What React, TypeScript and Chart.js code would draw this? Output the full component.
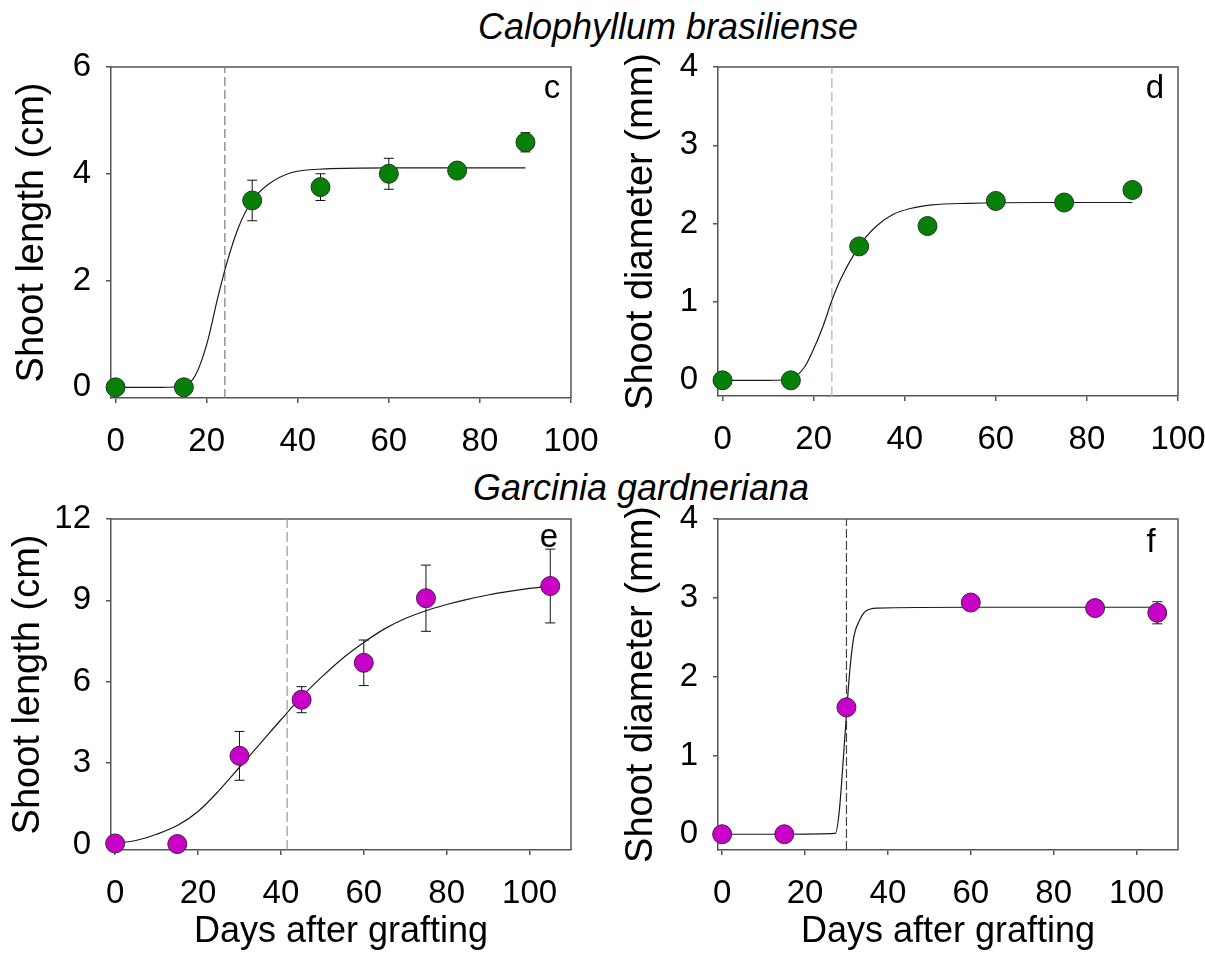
import React, { useEffect, useRef } from "react";
import { Chart, registerables } from "chart.js";

Chart.register(...registerables);

const FONT = '"Liberation Sans", Arial, Helvetica, sans-serif';
const AXIS = "#555555";

// ---------- Calophyllum brasiliense ----------
const daysCalophyllum = [0, 15, 30, 45, 60, 75, 90];
const lengthCalophyllum = [0, 0, 3.5, 3.75, 4.0, 4.06, 4.59];
const lengthCalophyllumSE = [0, 0, 0.38, 0.25, 0.29, 0.05, 0.18];
const lengthCalophyllumFitDays = [0, 10, 15, 17.5, 20, 22.5, 24.5, 27, 30, 33.5, 38.5, 46, 60, 75, 90];
const lengthCalophyllumFit = [0, 0, 0.03, 0.22, 0.8, 1.7, 2.35, 3.0, 3.5, 3.8, 4.02, 4.09, 4.11, 4.11, 4.11];

const diameterCalophyllum = [0, 0, 1.71, 1.97, 2.29, 2.27, 2.43];
const diameterCalophyllumSE = [0, 0, 0.08, 0.05, 0.06, 0.05, 0.07];
const diameterCalophyllumFitDays = [0, 10, 15, 18, 20, 22, 24, 26, 29, 31.5, 34, 37.5, 41, 46, 54, 70, 90];
const diameterCalophyllumFit = [0, 0, 0.02, 0.17, 0.4, 0.68, 1.02, 1.3, 1.62, 1.83, 1.98, 2.12, 2.19, 2.24, 2.26, 2.27, 2.27];

// ---------- Garcinia gardneriana ----------
const lengthGarciniaDays = [0, 15, 30, 45, 60, 75, 105];
const lengthGarcinia = [0.04, 0.02, 3.27, 5.34, 6.7, 9.08, 9.53];
const lengthGarciniaSE = [0, 0, 0.9, 0.48, 0.84, 1.22, 1.36];
const lengthGarciniaFitDays = [0, 5, 10, 15, 20, 25, 30, 35, 40, 45, 50, 55, 60, 65, 70, 75, 80, 85, 90, 95, 100, 105];
const lengthGarciniaFit = [0.04, 0.15, 0.38, 0.7, 1.22, 1.98, 2.85, 3.72, 4.6, 5.45, 6.2, 6.88, 7.45, 7.95, 8.33, 8.62, 8.85, 9.04, 9.2, 9.33, 9.44, 9.53];

const diameterGarciniaDays = [0, 15, 30, 60, 90, 105];
const diameterGarcinia = [0, 0, 1.61, 2.94, 2.87, 2.81];
const diameterGarciniaSE = [0, 0, 0.05, 0.06, 0.05, 0.14];
const diameterGarciniaFitDays = [0, 15, 27.3, 28.2, 29.1, 30, 30.9, 31.8, 33.2, 34.6, 37.5, 60, 90, 105];
const diameterGarciniaFit = [0, 0, 0.01, 0.26, 0.85, 1.53, 2.13, 2.51, 2.72, 2.83, 2.87, 2.88, 2.88, 2.88];

// reference (dashed) days
const refDays = [24, 24, 41.5, 30];

// tick labels
const xTicksCalophyllum = [0, 20, 40, 60, 80, 100];
const xTicksGarcinia = [0, 20, 40, 60, 80, 100];
const yTicksLengthCalophyllum = [0, 2, 4, 6];
const yTicksDiameter = [0, 1, 2, 3, 4];
const yTicksLengthGarcinia = [0, 3, 6, 9, 12];

const speciesTitles = ["Calophyllum brasiliense", "Garcinia gardneriana"];
const panelLetters = ["c", "d", "e", "f"];
const yTitles = ["Shoot length (cm)", "Shoot diameter (mm)"];
const xTitle = "Days after grafting";

const GREEN = "#07800a";
const MAGENTA = "#c800c8";

type Spec = {
  days: number[];
  values: number[];
  errors: number[];
  fitDays: number[];
  fitValues: number[];
  refDay: number;
  refColor: string;
  refDash: number[];
  xMin: number;
  xMax: number;
  xTicks: number[];
  yMin: number;
  yMax: number;
  yTicks: number[];
  yTitle: string;
  xTitle: string;
  fill: string;
  edge: string;
  letter: string;
  letterDx: number;
  letterDy: number;
  yAxisWidth: number;
  xAxisHeight: number;
  yTitlePad: number;
  padTop: number;
  padRight: number;
};

function buildConfig(s: Spec): any {
  const points = s.days.map((d, i) => ({ x: d, y: s.values[i] }));
  const fit = s.fitDays.map((d, i) => ({ x: d, y: s.fitValues[i] }));
  const ref = [
    { x: s.refDay, y: s.yMin },
    { x: s.refDay, y: s.yMax },
  ];
  const extras = {
    id: "panelExtras",
    beforeDatasetsDraw(chart: any) {
      const { ctx, chartArea, scales } = chart;
      const { left, top, right, bottom } = chartArea;
      ctx.save();
      ctx.strokeStyle = AXIS;
      ctx.lineWidth = 1.5;
      ctx.beginPath();
      ctx.moveTo(left, top);
      ctx.lineTo(right, top);
      ctx.lineTo(right, bottom);
      ctx.stroke();
      ctx.strokeStyle = "#111";
      ctx.lineWidth = 1;
      s.days.forEach((d, i) => {
        const e = s.errors[i];
        if (!e) return;
        const px = scales.x.getPixelForValue(d);
        const y1 = scales.y.getPixelForValue(s.values[i] + e);
        const y2 = scales.y.getPixelForValue(s.values[i] - e);
        ctx.beginPath();
        ctx.moveTo(px, y1);
        ctx.lineTo(px, y2);
        ctx.moveTo(px - 5, y1);
        ctx.lineTo(px + 5, y1);
        ctx.moveTo(px - 5, y2);
        ctx.lineTo(px + 5, y2);
        ctx.stroke();
      });
      ctx.restore();
    },
    afterDraw(chart: any) {
      const { ctx, chartArea } = chart;
      ctx.save();
      ctx.fillStyle = "#000";
      ctx.font = `33px ${FONT}`;
      ctx.textAlign = "center";
      ctx.textBaseline = "alphabetic";
      ctx.fillText(s.letter, chartArea.right - s.letterDx, chartArea.top + s.letterDy);
      ctx.restore();
    },
  };
  const tickFont = { family: FONT, size: 33 };
  const xTitleFont = { family: FONT, size: 36 };
  const yTitleFont = { family: FONT, size: 38 };
  return {
    type: "scatter",
    data: {
      datasets: [
        {
          data: points,
          backgroundColor: s.fill,
          borderColor: s.edge,
          borderWidth: 1,
          pointRadius: 9.5,
          pointHoverRadius: 9.5,
          clip: false,
          order: 0,
        },
        {
          data: fit,
          showLine: true,
          borderColor: "#1a1a1a",
          borderWidth: 1.2,
          pointRadius: 0,
          cubicInterpolationMode: "monotone",
          fill: false,
          order: 1,
        },
        {
          data: ref,
          showLine: true,
          borderColor: s.refColor,
          borderWidth: 1.2,
          borderDash: s.refDash,
          pointRadius: 0,
          fill: false,
          order: 2,
        },
      ],
    },
    options: {
      responsive: false,
      animation: false,
      devicePixelRatio: 1,
      events: [],
      layout: { padding: { top: s.padTop, right: s.padRight, left: 0, bottom: 0 } },
      plugins: {
        legend: { display: false },
        tooltip: { enabled: false },
        title: { display: false },
      },
      scales: {
        x: {
          type: "linear",
          min: s.xMin,
          max: s.xMax,
          afterBuildTicks: (sc: any) => {
            sc.ticks = s.xTicks.map((v) => ({ value: v }));
          },
          afterFit: (sc: any) => {
            sc.height = s.xAxisHeight;
            sc.paddingLeft = 0;
            sc.paddingRight = 0;
          },
          grid: {
            display: true,
            drawOnChartArea: false,
            drawTicks: true,
            tickLength: 5,
            color: AXIS,
            lineWidth: 1.5,
          },
          border: { display: true, color: AXIS, width: 1.5 },
          ticks: {
            font: tickFont,
            color: "#000",
            padding: 19,
            maxRotation: 0,
            autoSkip: false,
            callback: (v: any) => String(v),
          },
          title: {
            display: !!s.xTitle,
            text: s.xTitle,
            font: xTitleFont,
            color: "#000",
            padding: { top: 0, bottom: 0 },
          },
        },
        y: {
          type: "linear",
          min: s.yMin,
          max: s.yMax,
          afterBuildTicks: (sc: any) => {
            sc.ticks = s.yTicks.map((v) => ({ value: v }));
          },
          afterFit: (sc: any) => {
            sc.width = s.yAxisWidth;
            sc.paddingTop = 0;
            sc.paddingBottom = 0;
          },
          grid: {
            display: true,
            drawOnChartArea: false,
            drawTicks: true,
            tickLength: 5,
            color: AXIS,
            lineWidth: 1.5,
          },
          border: { display: true, color: AXIS, width: 1.5 },
          ticks: {
            font: tickFont,
            color: "#000",
            padding: 15,
            autoSkip: false,
            callback: (v: any) => String(v),
          },
          title: {
            display: true,
            text: s.yTitle,
            font: yTitleFont,
            color: "#000",
            padding: { top: s.yTitlePad, bottom: 0 },
          },
        },
      },
    },
    plugins: [extras],
  };
}

function Panel(props: { left: number; top: number; width: number; height: number; spec: Spec }) {
  const ref = useRef<HTMLCanvasElement>(null);
  useEffect(() => {
    if (!ref.current) return;
    const chart = new Chart(ref.current, buildConfig(props.spec));
    return () => chart.destroy();
  }, []);
  return (
    <canvas
      ref={ref}
      width={props.width}
      height={props.height}
      style={{
        position: "absolute",
        left: props.left,
        top: props.top,
        width: props.width,
        height: props.height,
      }}
    />
  );
}

const specC: Spec = {
  days: daysCalophyllum,
  values: lengthCalophyllum,
  errors: lengthCalophyllumSE,
  fitDays: lengthCalophyllumFitDays,
  fitValues: lengthCalophyllumFit,
  refDay: refDays[0],
  refColor: "#7a7a7a",
  refDash: [9, 4],
  xMin: -1,
  xMax: 100,
  xTicks: xTicksCalophyllum,
  yMin: -0.2,
  yMax: 6,
  yTicks: yTicksLengthCalophyllum,
  yTitle: yTitles[0],
  xTitle: "",
  fill: GREEN,
  edge: "#1f3a1f",
  letter: panelLetters[0],
  letterDx: 19,
  letterDy: 31,
  yAxisWidth: 111,
  xAxisHeight: 72,
  yTitlePad: 10,
  padTop: 17,
  padRight: 29,
};

const specD: Spec = {
  days: daysCalophyllum,
  values: diameterCalophyllum,
  errors: diameterCalophyllumSE,
  fitDays: diameterCalophyllumFitDays,
  fitValues: diameterCalophyllumFit,
  refDay: refDays[1],
  refColor: "#b0b0b0",
  refDash: [10, 4],
  xMin: -1,
  xMax: 100,
  xTicks: xTicksCalophyllum,
  yMin: -0.2,
  yMax: 4,
  yTicks: yTicksDiameter,
  yTitle: yTitles[1],
  xTitle: "",
  fill: GREEN,
  edge: "#1f3a1f",
  letter: panelLetters[1],
  letterDx: 23,
  letterDy: 31,
  yAxisWidth: 118,
  xAxisHeight: 74,
  yTitlePad: 19,
  padTop: 17,
  padRight: 27,
};

const specE: Spec = {
  days: lengthGarciniaDays,
  values: lengthGarcinia,
  errors: lengthGarciniaSE,
  fitDays: lengthGarciniaFitDays,
  fitValues: lengthGarciniaFit,
  refDay: refDays[2],
  refColor: "#9a9a9a",
  refDash: [10, 4],
  xMin: -1,
  xMax: 110,
  xTicks: xTicksGarcinia,
  yMin: -0.2,
  yMax: 12,
  yTicks: yTicksLengthGarcinia,
  yTitle: yTitles[0],
  xTitle: xTitle,
  fill: MAGENTA,
  edge: "#4a1a4a",
  letter: panelLetters[2],
  letterDx: 22,
  letterDy: 28,
  yAxisWidth: 111,
  xAxisHeight: 104,
  yTitlePad: 6,
  padTop: 39,
  padRight: 29,
};

const specF: Spec = {
  days: diameterGarciniaDays,
  values: diameterGarcinia,
  errors: diameterGarciniaSE,
  fitDays: diameterGarciniaFitDays,
  fitValues: diameterGarciniaFit,
  refDay: refDays[3],
  refColor: "#444444",
  refDash: [9, 3],
  xMin: -1,
  xMax: 110,
  xTicks: xTicksGarcinia,
  yMin: -0.2,
  yMax: 4,
  yTicks: yTicksDiameter,
  yTitle: yTitles[1],
  xTitle: xTitle,
  fill: MAGENTA,
  edge: "#4a1a4a",
  letter: panelLetters[3],
  letterDx: 27,
  letterDy: 33,
  yAxisWidth: 118,
  xAxisHeight: 104,
  yTitlePad: 19,
  padTop: 39,
  padRight: 27,
};

function SpeciesTitle(props: { text: string; cx: number; baseline: number }) {
  return (
    <div
      style={{
        position: "absolute",
        left: props.cx,
        top: props.baseline - 30.5,
        transform: "translateX(-50%)",
        font: `italic 36px ${FONT}`,
        lineHeight: "36px",
        whiteSpace: "nowrap",
        color: "#000",
      }}
    >
      {props.text}
    </div>
  );
}

export default function App() {
  return (
    <div
      style={{
        position: "absolute",
        left: 0,
        top: 0,
        width: 1205,
        height: 954,
        background: "#fff",
        overflow: "hidden",
      }}
    >
      <SpeciesTitle text={speciesTitles[0]} cx={668} baseline={39} />
      <SpeciesTitle text={speciesTitles[1]} cx={641} baseline={500} />
      <Panel left={0} top={50} width={600} height={420} spec={specC} />
      <Panel left={600} top={50} width={605} height={420} spec={specD} />
      <Panel left={0} top={480} width={600} height={474} spec={specE} />
      <Panel left={600} top={480} width={605} height={474} spec={specF} />
    </div>
  );
}
